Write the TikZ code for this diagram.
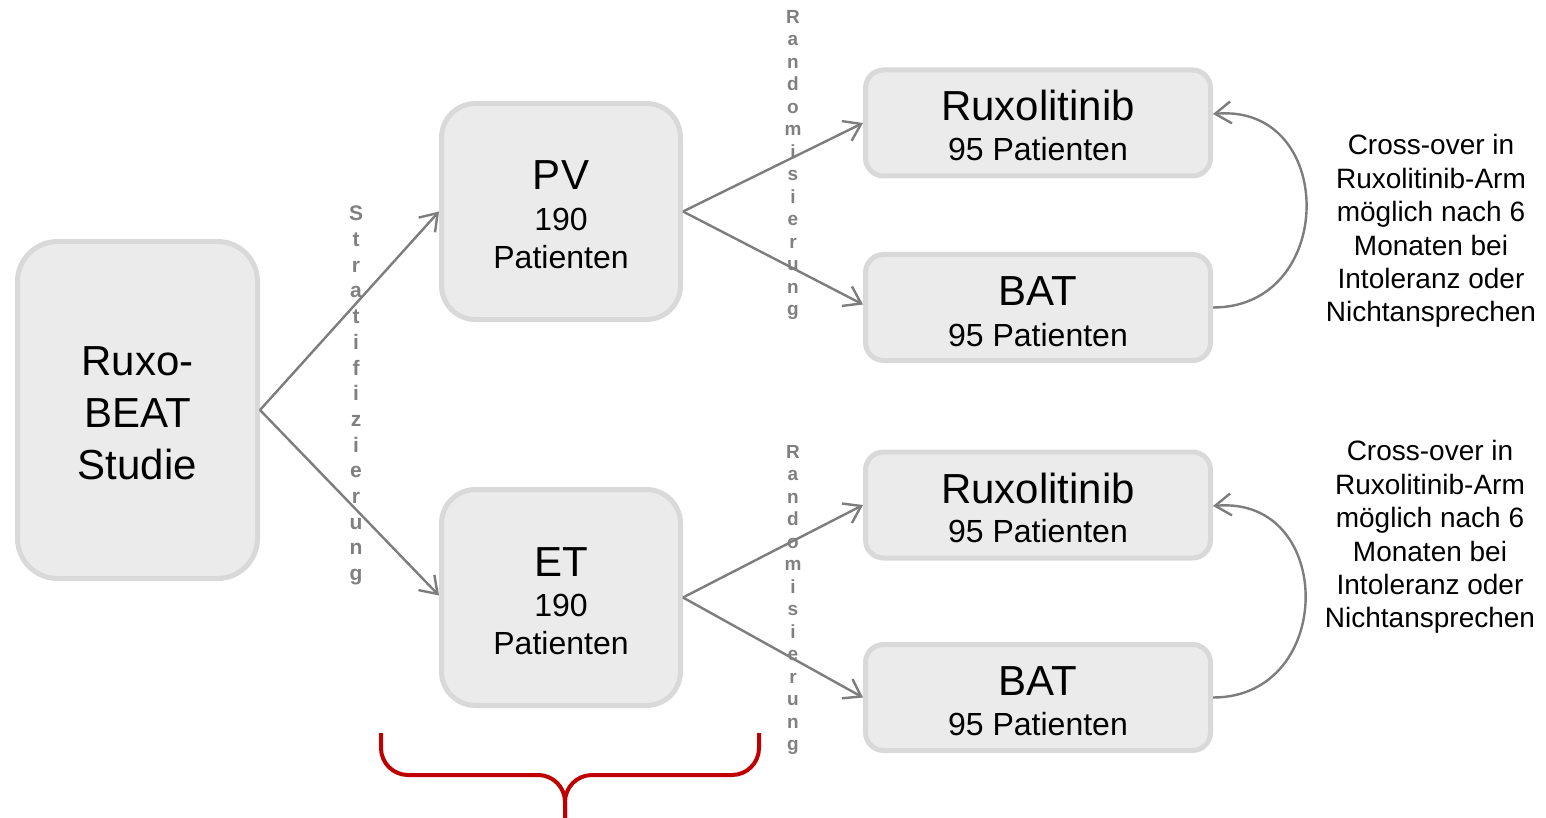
\documentclass[tikz,border=0pt]{standalone}
\usepackage{fontspec}
\setmainfont{Liberation Sans}
\usetikzlibrary{arrows.meta}
\definecolor{boxfill}{RGB}{235,235,235}
\definecolor{boxdraw}{RGB}{217,217,217}
\definecolor{arrowgray}{RGB}{125,125,125}
\definecolor{lettergray}{RGB}{128,128,128}
\definecolor{bracered}{RGB}{192,0,0}
\begin{document}
\begin{tikzpicture}[x=1pt,y=-1pt,
  box/.style={draw=boxdraw, fill=boxfill, line width=5pt, inner sep=0pt},
  bigbox/.style={box, rounded corners=40pt, minimum width=240pt, minimum height=337pt},
  midbox/.style={box, rounded corners=34pt, minimum width=239pt, minimum height=216pt},
  armbox/.style={box, rounded corners=18pt, minimum width=345pt, minimum height=106pt},
  conn/.style={draw=arrowgray, line width=2.4pt, -{Straight Barb[length=16pt,width=22pt]}},
  bigtxt/.style={font=\fontsize{42}{52}\selectfont, inner sep=0pt, anchor=base},
  smalltxt/.style={font=\fontsize{32}{38}\selectfont, inner sep=0pt, anchor=base},
  notetxt/.style={font=\fontsize{28}{33.4}\selectfont, inner sep=0pt, anchor=north, align=center},
  strattxt/.style={font=\bfseries\fontsize{21}{25.7}\selectfont, text=lettergray, inner sep=0pt, anchor=north, align=center},
  randtxt/.style={font=\bfseries\fontsize{19}{22.5}\selectfont, text=lettergray, inner sep=0pt, anchor=north, align=center},
  bracepath/.style={draw=bracered, line width=4pt, rounded corners=27pt}
]
\useasboundingbox (0,0) rectangle (1546,818);

% boxes
\node[bigbox] (study) at (137.5,410) {};
\node[midbox] (pv) at (561,211.5) {};
\node[midbox] (et) at (561,597.5) {};
\node[armbox] (rux1) at (1038,123) {};
\node[armbox] (bat1) at (1038,307.5) {};
\node[armbox] (rux2) at (1038,505) {};
\node[armbox] (bat2) at (1038,697.5) {};

% texts
\node[bigtxt] (s1) at (137.5,375) {Ruxo-};
\node[bigtxt] (s2) at (137.5,427) {BEAT};
\node[bigtxt] (s3) at (137.5,479) {Studie};

\node[bigtxt] (pvt) at (561,190) {PV};
\node[smalltxt] (pvn) at (561,230.5) {190};
\node[smalltxt] (pvp) at (561,268.5) {Patienten};

\node[bigtxt] (ett) at (561,576) {ET};
\node[smalltxt] (etn) at (561,616.5) {190};
\node[smalltxt] (etp) at (561,654.5) {Patienten};

\node[bigtxt] (rux1t) at (1038,121) {Ruxolitinib};
\node[smalltxt] (rux1p) at (1038,160.5) {95 Patienten};
\node[bigtxt] (bat1t) at (1038,305) {BAT};
\node[smalltxt] (bat1p) at (1038,346.5) {95 Patienten};
\node[bigtxt] (rux2t) at (1038,503) {Ruxolitinib};
\node[smalltxt] (rux2p) at (1038,542.5) {95 Patienten};
\node[bigtxt] (bat2t) at (1038,695) {BAT};
\node[smalltxt] (bat2p) at (1038,735.5) {95 Patienten};

\node[notetxt] (note1) at (1431,134.5) {Cross-over in\\Ruxolitinib-Arm\\möglich nach 6\\Monaten bei\\Intoleranz oder\\Nichtansprechen};
\node[notetxt] (note2) at (1430,440.5) {Cross-over in\\Ruxolitinib-Arm\\möglich nach 6\\Monaten bei\\Intoleranz oder\\Nichtansprechen};

% vertical labels
\node[strattxt] (strat) at (356,206) {S\\t\\r\\a\\t\\i\\f\\i\\z\\i\\e\\r\\u\\n\\g};
\node[randtxt] (rand1) at (793,10) {R\\a\\n\\d\\o\\m\\i\\s\\i\\e\\r\\u\\n\\g};
\node[randtxt] (rand2) at (793,445) {R\\a\\n\\d\\o\\m\\i\\s\\i\\e\\r\\u\\n\\g};

% connectors
\draw[conn] (study.east) -- (pv.west);
\draw[conn] (study.east) -- ([yshift=2pt]et.west);
\draw[conn] (pv.east) -- (rux1.west);
\draw[conn] (pv.east) -- ([yshift=3pt]bat1.west);
\draw[conn] (et.east) -- (rux2.west);
\draw[conn] (et.east) -- (bat2.west);

\draw[conn] (bat1.east) to[out=0,in=5,looseness=1.65] ([yshift=9pt]rux1.east);
\draw[conn] (bat2.east) to[out=0,in=5,looseness=1.65] ([yshift=-1pt]rux2.east);

% brace
\coordinate (brl) at (381,733);
\coordinate (brr) at (759,733);
\coordinate (brm) at (565,775);
\coordinate (brtip) at (565,818);
\draw[bracepath] (brl) |- (brm) -- (brtip);
\draw[bracepath] (brr) |- (brm) -- (brtip);
\end{tikzpicture}
\end{document}
